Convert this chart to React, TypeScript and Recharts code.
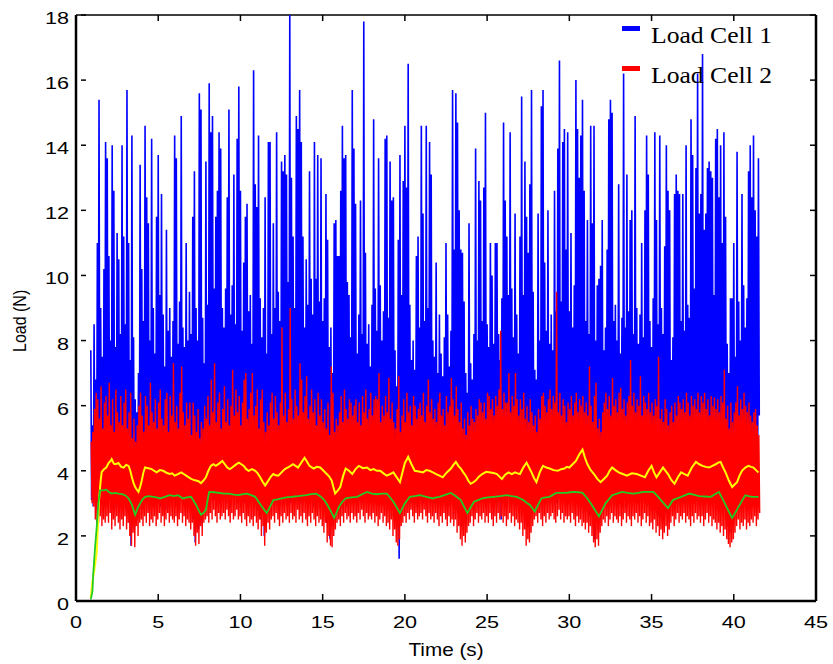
import React from 'react';
import { LineChart, Line, XAxis, YAxis, ReferenceLine, Legend, Label } from 'recharts';

// sampling grid of the two load-cell records (s)
const startTime = 0.9;
const stepTime = 0.1;

// Load Cell 1: local peaks and troughs (N)
const blueHigh = [
  7.7, 5.4, 8.5, 6.8, 11.0, 15.4, 9.0, 7.5, 10.2, 14.1,
  13.6, 10.6, 8.0, 14.0, 12.6, 7.8, 11.3, 10.5, 8.2, 14.0,
  11.2, 8.5, 15.7, 11.0, 7.4, 14.3, 8.1, 6.2, 5.8, 7.0,
  13.4, 10.2, 8.6, 14.6, 12.4, 11.6, 8.0, 14.2, 9.0, 7.6,
  11.8, 13.7, 9.4, 12.5, 8.8, 7.2, 11.4, 8.3, 9.0, 7.5,
  8.6, 14.3, 13.6, 7.9, 9.2, 14.9, 8.4, 7.8, 11.0, 8.0,
  9.5, 8.2, 11.8, 13.2, 9.0, 8.0, 15.6, 15.1, 8.7, 7.3,
  13.5, 9.1, 15.9, 14.4, 14.9, 9.6, 11.8, 12.6, 14.4, 13.9,
  9.0, 8.4, 9.6, 12.4, 15.1, 8.8, 9.7, 13.1, 8.5, 14.2,
  15.8, 12.6, 8.3, 10.4, 11.8, 12.2, 8.9, 9.4, 7.9, 16.3,
  12.8, 12.1, 14.3, 9.3, 8.1, 9.0, 12.4, 7.6, 14.1, 14.1,
  8.2, 11.6, 9.0, 14.4, 9.5, 8.6, 13.5, 13.2, 13.7, 13.1,
  9.8, 18.0, 13.0, 11.2, 9.0, 14.9, 14.5, 15.7, 14.1, 11.2,
  8.4, 10.5, 9.1, 13.2, 9.9, 8.8, 14.1, 9.9, 13.7, 9.2,
  13.6, 8.6, 9.3, 12.5, 11.1, 7.8, 8.4, 7.0, 11.6, 11.7,
  10.6, 10.6, 12.6, 14.6, 13.6, 13.7, 9.8, 9.4, 8.1, 15.7,
  13.9, 12.2, 7.6, 8.8, 12.3, 8.2, 17.8, 10.7, 7.9, 8.5,
  7.2, 9.1, 14.8, 9.6, 8.3, 13.6, 9.7, 8.0, 8.9, 14.2,
  14.3, 8.7, 13.5, 12.3, 12.4, 7.7, 6.6, 11.1, 13.7, 9.4,
  12.9, 14.6, 12.7, 16.5, 9.1, 7.4, 8.0, 7.1, 10.6, 11.2,
  8.4, 14.6, 11.9, 8.6, 14.6, 9.0, 14.1, 13.1, 8.0, 7.5,
  10.4, 7.0, 8.8, 7.6, 6.9, 8.1, 11.0, 8.8, 7.2, 8.3,
  15.7, 10.8, 15.6, 14.7, 12.0, 10.8, 10.7, 9.2, 7.0, 6.4,
  11.6, 7.3, 6.8, 8.2, 13.9, 8.0, 12.9, 12.3, 8.6, 12.7,
  15.0, 8.5, 7.8, 11.0, 10.0, 7.9, 11.0, 11.0, 8.2, 7.4,
  9.3, 14.7, 12.3, 11.2, 9.4, 14.4, 9.6, 8.1, 11.9, 8.8,
  7.6, 11.2, 15.5, 9.4, 13.5, 11.8, 10.7, 12.8, 15.7, 9.5,
  7.1, 6.8, 11.9, 8.0, 15.2, 15.7, 10.4, 8.3, 12.0, 7.9,
  8.8, 7.7, 12.6, 8.9, 13.9, 16.6, 9.2, 14.1, 14.5, 10.8,
  14.4, 8.9, 11.3, 8.4, 9.7, 16.0, 14.5, 13.0, 14.3, 15.4,
  12.6, 8.6, 11.7, 8.2, 14.6, 11.6, 14.6, 8.0, 9.7, 9.9,
  10.3, 11.7, 7.7, 8.4, 10.8, 14.8, 15.4, 15.0, 8.6, 9.1,
  8.0, 12.8, 7.6, 8.7, 16.2, 8.4, 13.1, 8.9, 11.7, 12.0,
  8.2, 14.9, 9.0, 7.9, 8.8, 11.0, 8.1, 12.0, 14.3, 13.1,
  8.6, 7.8, 9.3, 14.4, 11.7, 8.5, 14.3, 9.0, 8.2, 10.9,
  14.0, 12.6, 12.0, 7.4, 8.1, 12.5, 13.1, 12.6, 12.5, 8.6,
  12.5, 8.3, 14.0, 9.1, 8.7, 14.8, 13.7, 9.6, 13.3, 16.2,
  11.9, 12.5, 16.8, 11.4, 11.9, 13.3, 13.5, 13.2, 13.0, 9.4,
  14.2, 14.5, 12.4, 14.0, 11.0, 14.4, 11.8, 7.9, 7.0, 9.3,
  9.3, 11.0, 7.5, 13.8, 9.2, 8.0, 12.5, 9.7, 8.4, 9.3,
  13.2, 14.0, 12.4, 14.3, 12.0, 11.2, 13.6,
];

const blueLow = [
  3.1, 2.9, 3.4, 2.8, 3.6, 3.0, 3.3, 2.7, 3.5, 3.1,
  2.9, 3.4, 3.0, 3.7, 2.8, 3.2, 3.5, 2.9, 3.3, 3.0,
  3.4, 2.8, 3.1, 2.4, 1.7, 2.6, 2.2, 2.9, 2.5, 3.0,
  3.3, 2.9, 3.6, 3.1, 3.4, 2.8, 3.5, 3.0, 3.2, 3.7,
  3.0, 3.4, 2.9, 3.6, 3.2, 2.8, 3.5, 3.1, 3.3, 2.9,
  3.6, 3.0, 3.4, 2.8, 3.2, 3.7, 3.0, 3.3, 2.9, 3.5,
  3.1, 2.8, 2.5, 1.8, 2.6, 2.2, 2.9, 2.4, 3.0, 3.3,
  3.5, 3.0, 3.8, 3.2, 3.6, 3.1, 3.4, 3.7, 3.0, 3.5,
  3.2, 3.6, 3.0, 3.4, 3.8, 3.1, 3.5, 3.3, 3.7, 3.0,
  3.4, 3.1, 3.6, 3.0, 3.5, 3.2, 3.8, 3.1, 3.4, 3.0,
  3.2, 2.8, 3.0, 2.5, 2.7, 2.0, 2.6, 3.0, 2.8, 3.3,
  3.1, 3.5, 3.0, 3.6, 3.2, 3.4, 2.9, 3.7, 3.1, 3.5,
  3.3, 3.0, 3.6, 3.2, 3.8, 3.1, 3.5, 3.0, 3.4, 3.7,
  3.2, 3.5, 3.0, 3.6, 3.3, 2.9, 3.4, 3.1, 3.7, 3.0,
  3.2, 2.8, 3.0, 2.4, 2.6, 1.9, 2.3, 2.7, 2.9, 3.1,
  3.4, 3.0, 3.6, 3.2, 3.5, 2.9, 3.7, 3.1, 3.4, 3.0,
  3.5, 3.1, 3.8, 3.3, 3.6, 3.0, 3.4, 3.2, 3.7, 3.1,
  3.3, 3.6, 3.0, 3.5, 3.2, 3.8, 3.1, 3.4, 2.9, 3.6,
  3.1, 3.4, 2.9, 3.0, 2.6, 2.8, 2.4, 1.3, 2.7, 3.0,
  3.3, 3.6, 3.1, 3.5, 3.0, 3.7, 3.2, 3.4, 2.9, 3.6,
  3.2, 3.5, 3.0, 3.8, 3.3, 3.1, 3.6, 3.0, 3.4, 3.2,
  3.5, 3.0, 3.4, 3.1, 3.7, 2.9, 3.3, 3.6, 3.0, 3.4,
  3.1, 3.4, 2.8, 3.0, 2.6, 2.3, 2.7, 2.5, 2.9, 3.2,
  3.4, 3.0, 3.6, 3.2, 3.5, 2.9, 3.3, 3.7, 3.1, 3.4,
  3.0, 3.5, 3.2, 3.6, 2.9, 3.3, 3.0, 3.4, 3.1, 2.5,
  3.3, 3.6, 3.0, 3.4, 3.2, 3.7, 3.1, 3.5, 2.9, 3.3,
  3.0, 3.2, 2.7, 2.9, 2.4, 2.6, 2.3, 2.8, 3.0, 3.2,
  3.4, 3.1, 3.6, 3.0, 3.5, 3.2, 3.8, 3.1, 3.4, 3.0,
  3.6, 3.2, 3.5, 3.0, 3.7, 3.3, 3.1, 3.6, 3.2, 3.4,
  3.0, 3.5, 3.2, 3.7, 3.1, 3.4, 3.0, 3.6, 3.3, 3.1,
  3.2, 2.9, 3.1, 2.6, 2.8, 2.3, 1.9, 2.5, 2.4, 2.8,
  3.1, 3.4, 3.0, 3.6, 3.2, 3.5, 2.9, 3.7, 3.1, 3.3,
  3.5, 3.0, 3.4, 3.2, 3.6, 2.9, 3.3, 3.7, 3.0, 3.4,
  3.2, 3.6, 3.0, 3.5, 3.1, 3.4, 3.8, 3.0, 3.3, 3.1,
  3.4, 3.0, 3.2, 2.8, 3.0, 2.6, 2.7, 2.4, 2.9, 3.1,
  2.8, 3.0, 3.3, 3.5, 3.0, 3.4, 3.1, 3.6, 3.2, 3.5,
  3.0, 3.4, 3.2, 3.7, 3.1, 3.5, 3.0, 3.3, 3.6, 3.2,
  3.4, 3.0, 3.6, 3.1, 3.5, 3.2, 3.7, 3.0, 3.3, 3.1,
  3.0, 3.3, 2.8, 3.1, 2.7, 2.9, 2.5, 2.3, 2.1, 2.4,
  2.6, 2.9, 3.1, 3.4, 3.0, 3.3, 3.1, 3.5, 3.0, 3.2,
  3.4, 3.1, 3.5, 3.0, 3.3, 3.1, 5.7,
];

// Load Cell 2: local peaks and troughs (N)
const redHigh = [
  4.9, 5.2, 5.9, 6.4, 6.2, 5.6, 6.6, 5.3, 6.1, 6.3,
  5.7, 6.7, 5.4, 6.2, 5.2, 6.5, 5.8, 5.5, 6.3, 5.4,
  6.1, 6.5, 5.3, 5.8, 6.4, 5.0, 5.6, 4.9, 5.4, 6.0,
  6.4, 5.7, 5.2, 6.3, 6.0, 5.4, 6.7, 5.8, 5.5, 6.2,
  5.3, 6.1, 6.5, 5.6, 5.4, 6.2, 6.4, 5.2, 6.3, 5.7,
  7.3, 5.5, 6.0, 5.3, 6.4, 7.2, 5.8, 5.4, 6.1, 5.6,
  6.1, 5.1, 6.1, 5.7, 5.2, 5.9, 5.0, 5.5, 5.3, 6.0,
  5.6, 6.3, 5.4, 6.8, 5.8, 7.3, 5.5, 6.1, 6.4, 5.3,
  5.9, 6.6, 5.5, 6.2, 5.4, 6.0, 7.1, 5.7, 6.5, 5.8,
  6.3, 5.4, 6.1, 6.8, 7.0, 5.6, 5.9, 6.4, 7.0, 5.7,
  6.0, 6.5, 5.3, 6.2, 6.5, 5.5, 5.2, 5.8, 5.4, 6.1,
  6.4, 5.6, 6.3, 5.8, 5.4, 6.1, 8.4, 5.7, 6.4, 5.5,
  5.9, 9.0, 6.2, 5.6, 6.5, 6.0, 5.7, 7.3, 6.8, 5.8,
  6.3, 6.9, 5.6, 6.0, 6.5, 5.8, 6.2, 5.4, 6.4, 5.7,
  6.2, 5.5, 5.9, 5.3, 6.1, 5.1, 7.2, 6.4, 5.2, 5.6,
  5.4, 5.8, 6.3, 5.5, 6.5, 5.9, 5.6, 6.2, 6.1, 5.7,
  6.0, 6.2, 5.5, 6.1, 5.4, 6.3, 5.8, 6.5, 5.6, 5.9,
  6.4, 5.7, 6.2, 6.3, 6.2, 7.0, 5.5, 6.0, 5.7, 6.3,
  5.8, 6.85, 5.6, 6.1, 5.5, 5.3, 5.9, 6.9, 5.2, 5.7,
  6.2, 5.5, 6.4, 5.8, 6.0, 5.4, 6.3, 6.0, 5.6, 5.9,
  6.1, 5.7, 6.4, 5.5, 6.0, 6.8, 5.8, 6.2, 5.6, 5.9,
  5.5, 6.1, 6.4, 5.7, 5.9, 5.4, 6.3, 5.8, 6.0, 6.85,
  6.2, 5.7, 6.6, 5.9, 5.5, 6.1, 5.3, 5.6, 5.1, 5.8,
  5.4, 6.0, 5.6, 5.5, 5.9, 5.7, 6.2, 6.1, 5.8, 6.1,
  5.6, 6.4, 6.3, 5.9, 6.2, 5.7, 6.3, 6.0, 6.5, 8.3,
  5.9, 6.4, 6.1, 6.1, 7.0, 5.8, 6.3, 6.0, 7.0, 6.2,
  5.7, 6.2, 5.9, 6.4, 5.6, 6.0, 5.5, 6.2, 5.8, 5.4,
  5.7, 5.2, 5.9, 5.6, 6.3, 6.4, 6.0, 5.8, 6.2, 6.5,
  5.9, 6.3, 6.1, 9.5, 5.8, 6.4, 5.7, 6.2, 6.0, 5.5,
  6.1, 5.9, 6.3, 5.7, 6.1, 6.4, 5.8, 6.2, 6.0, 6.3,
  5.8, 6.1, 5.7, 7.2, 6.0, 5.5, 6.3, 6.7, 5.3, 5.6,
  5.2, 5.8, 6.1, 6.4, 5.9, 6.3, 5.7, 6.85, 6.0, 6.2,
  5.8, 6.4, 6.55, 5.9, 6.2, 5.7, 6.1, 6.3, 7.4, 6.0,
  6.4, 5.8, 6.2, 6.0, 6.9, 5.7, 6.3, 6.1, 5.9, 6.4,
  5.8, 6.1, 5.7, 6.2, 6.0, 7.5, 5.6, 5.9, 5.5, 6.2,
  5.9, 5.4, 5.8, 6.0, 5.5, 6.1, 5.7, 6.3, 6.1, 5.9,
  6.2, 5.8, 6.4, 6.1, 5.7, 6.3, 6.0, 6.2, 5.9, 6.4,
  5.8, 6.3, 6.1, 6.4, 5.9, 6.2, 5.7, 6.3, 6.0, 6.25,
  5.9, 6.2, 5.8, 6.3, 6.1, 7.1, 5.6, 6.0, 5.3, 6.1,
  5.5, 5.8, 6.1, 6.6, 5.7, 6.2, 5.9, 6.4, 6.0, 5.8,
  6.1, 5.7, 5.5, 5.8, 5.9, 5.4, 5.1,
];

const redLow = [
  3.0, 2.9, 2.5, 2.3, 2.4, 2.6, 2.3, 2.5, 2.4, 2.6,
  2.4, 2.7, 2.2, 2.5, 2.3, 2.6, 2.4, 2.2, 2.5, 2.3,
  2.6, 2.2, 2.4, 2.0, 1.7, 2.1, 1.65, 2.3, 2.0, 2.4,
  2.5, 2.3, 2.6, 2.4, 2.7, 2.3, 2.5, 2.4, 2.6, 2.3,
  2.5, 2.7, 2.4, 2.6, 2.3, 2.5, 2.7, 2.4, 2.6, 2.5,
  2.4, 2.6, 2.3, 2.5, 2.7, 2.4, 2.6, 2.3, 2.5, 2.4,
  2.2, 2.4, 2.0, 1.7, 2.1, 1.75, 2.3, 2.0, 2.4, 2.5,
  2.6, 2.4, 2.7, 2.5, 2.8, 2.6, 2.4, 2.7, 2.5, 2.6,
  2.7, 2.5, 2.8, 2.6, 2.4, 2.7, 2.5, 2.6, 2.8, 2.5,
  2.6, 2.4, 2.7, 2.5, 2.3, 2.6, 2.4, 2.5, 2.3, 2.6,
  2.4, 2.2, 2.5, 2.0, 2.3, 1.7, 2.1, 2.4, 2.2, 2.5,
  2.6, 2.4, 2.7, 2.5, 2.3, 2.6, 2.4, 2.7, 2.5, 2.6,
  2.4, 2.7, 2.5, 2.6, 2.4, 2.8, 2.5, 2.6, 2.4, 2.7,
  2.5, 2.3, 2.6, 2.4, 2.7, 2.5, 2.3, 2.6, 2.4, 2.5,
  2.3, 2.1, 2.4, 1.8, 2.0, 1.7, 1.65, 2.0, 2.2, 2.4,
  2.5, 2.3, 2.6, 2.4, 2.7, 2.5, 2.6, 2.4, 2.7, 2.5,
  2.6, 2.4, 2.7, 2.5, 2.8, 2.6, 2.4, 2.7, 2.5, 2.6,
  2.5, 2.7, 2.4, 2.6, 2.3, 2.5, 2.7, 2.4, 2.6, 2.3,
  2.4, 2.2, 2.5, 2.0, 2.2, 1.8, 1.7, 1.9, 2.3, 2.4,
  2.6, 2.4, 2.7, 2.5, 2.8, 2.6, 2.4, 2.7, 2.5, 2.6,
  2.7, 2.5, 2.8, 2.6, 2.4, 2.7, 2.5, 2.6, 2.4, 2.7,
  2.5, 2.3, 2.6, 2.4, 2.7, 2.5, 2.3, 2.6, 2.4, 2.5,
  2.3, 2.5, 2.1, 2.3, 1.9, 1.7, 2.0, 1.8, 2.1, 2.3,
  2.4, 2.6, 2.3, 2.5, 2.7, 2.4, 2.6, 2.5, 2.7, 2.4,
  2.6, 2.4, 2.7, 2.5, 2.3, 2.6, 2.4, 2.7, 2.5, 2.6,
  2.4, 2.6, 2.3, 2.5, 2.7, 2.4, 2.6, 2.3, 2.5, 2.4,
  2.2, 2.4, 2.0, 2.2, 1.7, 1.9, 1.8, 2.1, 2.3, 2.5,
  2.6, 2.4, 2.7, 2.5, 2.3, 2.6, 2.4, 2.7, 2.5, 2.6,
  2.7, 2.5, 2.4, 2.6, 2.8, 2.5, 2.7, 2.4, 2.6, 2.5,
  2.6, 2.4, 2.7, 2.5, 2.3, 2.6, 2.4, 2.5, 2.3, 2.4,
  2.2, 2.4, 2.1, 2.3, 2.0, 1.8, 1.65, 1.9, 1.7, 2.1,
  2.3, 2.5, 2.4, 2.6, 2.3, 2.5, 2.7, 2.4, 2.6, 2.5,
  2.4, 2.6, 2.3, 2.5, 2.7, 2.4, 2.6, 2.5, 2.3, 2.6,
  2.5, 2.7, 2.4, 2.6, 2.3, 2.5, 2.7, 2.4, 2.6, 2.3,
  2.4, 2.2, 2.5, 2.1, 2.3, 2.0, 2.2, 1.9, 2.1, 2.3,
  2.0, 2.2, 2.4, 2.6, 2.3, 2.5, 2.7, 2.4, 2.6, 2.5,
  2.7, 2.4, 2.6, 2.5, 2.3, 2.6, 2.4, 2.7, 2.5, 2.6,
  2.4, 2.6, 2.3, 2.5, 2.7, 2.4, 2.6, 2.3, 2.5, 2.4,
  2.2, 2.4, 2.1, 2.3, 2.0, 2.2, 1.9, 1.75, 1.65, 1.8,
  1.9, 2.1, 2.3, 2.5, 2.2, 2.4, 2.3, 2.5, 2.2, 2.4,
  2.3, 2.5, 2.4, 2.6, 2.3, 2.5, 2.7,
];

// smoothed Load Cell 1 trace (yellow): [time s, load N]
const yellowPoints = [
  [0.9, 0.1], [1.0, 0.6], [1.1, 0.9], [1.26, 1.5], [1.33, 2.3], [1.4, 3.1], [1.5, 3.7], [1.56, 3.96],
  [1.7, 4.05], [1.84, 4.1], [2.0, 4.25], [2.1, 4.3], [2.17, 4.36], [2.3, 4.22], [2.4, 4.2], [2.58, 4.24],
  [2.75, 4.12], [2.9, 4.1], [3.05, 4.18], [3.2, 4.15], [3.3, 4.0], [3.4, 3.8], [3.5, 3.62], [3.6, 3.5],
  [3.7, 3.42], [3.8, 3.35], [3.9, 3.5], [4.0, 3.7], [4.1, 3.95], [4.2, 4.1], [4.4, 4.08], [4.6, 4.05],
  [4.75, 4.0], [4.9, 3.95], [5.1, 4.02], [5.3, 4.0], [5.5, 3.94], [5.7, 3.9], [5.85, 3.92], [6.0, 3.85],
  [6.2, 3.9], [6.4, 3.95], [6.55, 3.9], [6.7, 3.85], [6.85, 3.8], [7.0, 3.75], [7.15, 3.72], [7.3, 3.7],
  [7.45, 3.68], [7.6, 3.62], [7.75, 3.7], [7.9, 3.8], [8.05, 4.0], [8.2, 4.15], [8.35, 4.2], [8.5, 4.15],
  [8.7, 4.22], [8.9, 4.3], [9.05, 4.2], [9.2, 4.1], [9.35, 4.05], [9.5, 4.1], [9.7, 4.18], [9.9, 4.25],
  [10.05, 4.2], [10.2, 4.15], [10.35, 4.05], [10.5, 4.0], [10.7, 4.05], [10.9, 4.0], [11.05, 3.92], [11.2, 3.8],
  [11.35, 3.66], [11.5, 3.55], [11.6, 3.62], [11.7, 3.7], [11.85, 3.82], [12.0, 3.9], [12.15, 3.86], [12.3, 3.85],
  [12.5, 3.95], [12.7, 4.05], [12.95, 4.12], [13.2, 4.2], [13.35, 4.15], [13.5, 4.1], [13.7, 4.25], [13.9, 4.4],
  [14.05, 4.28], [14.2, 4.15], [14.45, 4.07], [14.65, 4.12], [14.85, 4.1], [15.05, 4.0], [15.25, 3.9], [15.4, 3.82],
  [15.55, 3.7], [15.65, 3.5], [15.76, 3.3], [15.9, 3.38], [16.07, 3.5], [16.25, 3.85], [16.4, 4.07], [16.6, 4.0],
  [16.8, 3.9], [17.0, 4.05], [17.2, 4.15], [17.45, 4.08], [17.7, 4.1], [17.9, 4.02], [18.1, 4.05], [18.3, 4.0],
  [18.5, 4.0], [18.7, 3.92], [18.9, 3.85], [19.1, 3.9], [19.3, 3.95], [19.5, 3.8], [19.7, 3.65], [19.85, 3.95],
  [20.0, 4.24], [20.2, 4.43], [20.4, 4.2], [20.6, 4.0], [20.85, 3.98], [21.1, 3.95], [21.3, 4.02], [21.5, 4.0],
  [21.7, 3.95], [21.9, 3.9], [22.1, 3.85], [22.3, 3.8], [22.55, 3.95], [22.8, 4.07], [22.95, 4.18], [23.1, 4.27],
  [23.25, 4.15], [23.4, 4.07], [23.55, 3.95], [23.7, 3.85], [23.85, 3.7], [24.0, 3.6], [24.15, 3.64], [24.3, 3.7],
  [24.5, 3.82], [24.7, 3.9], [24.95, 3.97], [25.2, 3.95], [25.4, 3.93], [25.6, 3.9], [25.75, 3.82], [25.9, 3.75],
  [26.1, 3.88], [26.3, 3.95], [26.5, 3.9], [26.7, 3.95], [26.85, 3.92], [27.0, 3.9], [27.2, 4.1], [27.4, 4.25],
  [27.55, 4.1], [27.7, 3.95], [27.85, 3.78], [28.0, 3.65], [28.2, 3.95], [28.4, 4.15], [28.6, 4.1], [28.8, 4.07],
  [29.05, 4.02], [29.3, 4.0], [29.5, 4.05], [29.7, 4.07], [29.85, 4.12], [30.0, 4.1], [30.2, 4.2], [30.4, 4.3],
  [30.6, 4.5], [30.8, 4.65], [30.95, 4.4], [31.1, 4.2], [31.3, 4.02], [31.5, 3.9], [31.7, 3.75], [31.9, 3.65],
  [32.1, 3.75], [32.3, 3.85], [32.45, 4.0], [32.6, 4.1], [32.8, 4.02], [33.0, 3.95], [33.25, 3.9], [33.5, 3.85],
  [33.8, 3.92], [34.1, 3.9], [34.35, 3.85], [34.6, 3.8], [34.8, 4.0], [35.0, 4.15], [35.15, 3.95], [35.3, 3.8],
  [35.5, 3.95], [35.7, 4.1], [35.85, 4.0], [36.0, 3.9], [36.2, 3.72], [36.4, 3.6], [36.6, 3.8], [36.8, 3.95],
  [37.0, 3.9], [37.2, 3.85], [37.45, 4.1], [37.7, 4.27], [37.9, 4.2], [38.1, 4.15], [38.3, 4.12], [38.5, 4.1],
  [38.7, 4.15], [38.9, 4.2], [39.05, 4.25], [39.2, 4.27], [39.35, 4.1], [39.5, 3.95], [39.7, 3.7], [39.9, 3.5],
  [40.05, 3.58], [40.2, 3.65], [40.35, 3.85], [40.5, 4.0], [40.7, 4.1], [40.9, 4.15], [41.05, 4.12], [41.2, 4.1],
  [41.35, 4.02], [41.5, 3.95],
];

// smoothed Load Cell 2 trace (green): [time s, load N]
const greenPoints = [
  [0.9, 0.05], [1.0, 0.3], [1.05, 0.85], [1.16, 1.65], [1.26, 2.27], [1.36, 3.0], [1.46, 3.4], [1.65, 3.4],
  [1.84, 3.42], [2.0, 3.35], [2.17, 3.3], [2.4, 3.32], [2.58, 3.3], [2.8, 3.28], [2.98, 3.25], [3.2, 3.15],
  [3.3, 3.05], [3.4, 2.95], [3.5, 2.8], [3.6, 2.65], [3.75, 2.85], [3.9, 3.0], [4.05, 3.12], [4.2, 3.2],
  [4.45, 3.22], [4.7, 3.2], [4.9, 3.18], [5.1, 3.15], [5.4, 3.2], [5.7, 3.25], [5.95, 3.22], [6.2, 3.25],
  [6.35, 3.2], [6.5, 3.15], [6.75, 3.18], [7.0, 3.2], [7.15, 3.08], [7.3, 2.95], [7.45, 2.8], [7.6, 2.65],
  [7.75, 2.7], [7.9, 2.8], [8.0, 3.1], [8.1, 3.35], [8.4, 3.34], [8.7, 3.32], [9.0, 3.3], [9.3, 3.3],
  [9.6, 3.27], [9.9, 3.25], [10.15, 3.28], [10.4, 3.3], [10.65, 3.25], [10.9, 3.2], [11.1, 3.05], [11.3, 2.9],
  [11.45, 2.8], [11.6, 2.7], [11.8, 2.9], [12.0, 3.1], [12.25, 3.12], [12.5, 3.15], [12.8, 3.18], [13.1, 3.2],
  [13.3, 3.21], [13.5, 3.22], [13.75, 3.24], [14.0, 3.25], [14.3, 3.28], [14.6, 3.3], [14.85, 3.22], [15.1, 3.1],
  [15.25, 2.98], [15.4, 2.85], [15.55, 2.7], [15.7, 2.55], [15.85, 2.72], [16.0, 2.9], [16.2, 3.05], [16.4, 3.15],
  [16.75, 3.18], [17.1, 3.2], [17.4, 3.28], [17.7, 3.35], [18.0, 3.3], [18.3, 3.28], [18.6, 3.3], [18.9, 3.3],
  [19.1, 3.18], [19.3, 3.05], [19.5, 2.88], [19.7, 2.7], [19.85, 2.85], [20.0, 3.0], [20.15, 3.1], [20.3, 3.2],
  [20.6, 3.22], [20.9, 3.25], [21.3, 3.2], [21.7, 3.15], [21.9, 3.18], [22.1, 3.2], [22.45, 3.26], [22.8, 3.32],
  [23.1, 3.22], [23.4, 3.1], [23.6, 2.9], [23.8, 2.7], [24.0, 2.88], [24.2, 3.05], [24.45, 3.1], [24.7, 3.15],
  [25.05, 3.18], [25.4, 3.2], [25.8, 3.22], [26.2, 3.25], [26.5, 3.22], [26.8, 3.2], [27.0, 3.15], [27.2, 3.1],
  [27.4, 3.02], [27.6, 2.95], [27.75, 2.85], [27.9, 2.75], [28.1, 2.95], [28.3, 3.15], [28.55, 3.18], [28.8, 3.2],
  [29.0, 3.26], [29.2, 3.32], [29.5, 3.32], [29.8, 3.32], [30.05, 3.34], [30.3, 3.35], [30.55, 3.34], [30.8, 3.32],
  [31.05, 3.18], [31.3, 3.0], [31.55, 2.8], [31.8, 2.6], [32.0, 2.8], [32.2, 3.0], [32.4, 3.12], [32.6, 3.25],
  [32.9, 3.3], [33.2, 3.35], [33.55, 3.32], [33.9, 3.3], [34.2, 3.32], [34.5, 3.35], [34.8, 3.35], [35.1, 3.35],
  [35.25, 3.28], [35.4, 3.2], [35.7, 3.02], [36.0, 2.85], [36.15, 2.98], [36.3, 3.1], [36.55, 3.15], [36.8, 3.2],
  [37.05, 3.25], [37.3, 3.3], [37.6, 3.26], [37.9, 3.22], [38.25, 3.21], [38.6, 3.2], [38.85, 3.28], [39.1, 3.35],
  [39.3, 3.15], [39.5, 2.95], [39.7, 2.75], [39.9, 2.55], [40.1, 2.72], [40.3, 2.9], [40.5, 3.08], [40.7, 3.25],
  [40.9, 3.22], [41.1, 3.2], [41.3, 3.2], [41.5, 3.2],
];

const xTicks = [0, 5, 10, 15, 20, 25, 30, 35, 40, 45];
const yTicks = [0, 2, 4, 6, 8, 10, 12, 14, 16, 18];
const legendLabels = ['Load Cell 1', 'Load Cell 2'];
const legendColors = ['#0000ff', '#ff0000'];

type Pt = { t: number; v: number };

function peakTroughSeries(high: number[], low: number[], shift: number): Pt[] {
  const out: Pt[] = [];
  for (let i = 0; i < high.length; i++) {
    const t = startTime + i * stepTime + shift;
    out.push({ t: Math.round(t * 1000) / 1000, v: high[i] });
    out.push({ t: Math.round((t + stepTime / 2) * 1000) / 1000, v: low[i] });
  }
  return out;
}

function pairSeries(points: number[][]): Pt[] {
  return points.map(([t, v]) => ({ t, v }));
}

const blueData = peakTroughSeries(blueHigh, blueLow, 0);
const redData = peakTroughSeries(redHigh, redLow, 0.025);
const yellowData = pairSeries(yellowPoints);
const greenData = pairSeries(greenPoints);

const W = 833;
const H = 664;
const PLOT_TOP = 15;
const PLOT_LEFT = 76;
const PLOT_RIGHT = 816;
const SANS = "'Liberation Sans', Arial, Helvetica, sans-serif";
const SERIF = "'Liberation Serif', 'Times New Roman', serif";

function XTick(props: any) {
  const { x, y, payload } = props;
  return (
    <g>
      <text
        transform={`translate(${x},${y + 27}) scale(1.35,1)`}
        textAnchor="middle"
        fontFamily={SANS}
        fontSize={16}
        fill="#000"
      >
        {payload.value}
      </text>
      <line x1={x} y1={y} x2={x} y2={y - 7} stroke="#000" strokeWidth={1.5} />
      <line x1={x} y1={PLOT_TOP} x2={x} y2={PLOT_TOP + 6} stroke="#000" strokeWidth={1.5} />
    </g>
  );
}

function YTick(props: any) {
  const { x, y, payload } = props;
  return (
    <g>
      <text
        transform={`translate(${x - 7},${y + 9}) scale(1.35,1)`}
        textAnchor="end"
        fontFamily={SANS}
        fontSize={16}
        fill="#000"
      >
        {payload.value}
      </text>
      <line x1={x + 5} y1={y} x2={x + 10} y2={y} stroke="#000" strokeWidth={1.5} />
      <line x1={PLOT_RIGHT - 6} y1={y} x2={PLOT_RIGHT} y2={y} stroke="#000" strokeWidth={1.5} />
    </g>
  );
}

function LegendBox() {
  return (
    <svg width={210} height={90}>
      {legendLabels.map((name, i) => (
        <g key={name}>
          <rect x={7} y={16 + i * 40} width={18} height={5} fill={legendColors[i]} />
          <text
            transform={`translate(36,${33 + i * 40}) scale(1.14,1)`}
            fontFamily={SERIF}
            fontSize={22.5}
            fill="#000"
          >
            {name}
          </text>
        </g>
      ))}
    </svg>
  );
}

export default function App() {
  return (
    <div style={{ position: 'absolute', left: 0, top: 0, width: W, height: H, background: '#fff' }}>
      <LineChart
        width={W}
        height={H}
        margin={{ top: PLOT_TOP, right: W - PLOT_RIGHT, bottom: 23, left: 16 }}
      >
        <XAxis
          dataKey="t"
          type="number"
          domain={[0, 45]}
          ticks={xTicks}
          height={40}
          tickSize={0}
          tickMargin={0}
          tickLine={false}
          tick={<XTick />}
          axisLine={{ stroke: '#000', strokeWidth: 2.5 }}
          allowDataOverflow
        >
          <Label
            content={() => (
              <text
                transform="translate(446,656) scale(1.15,1)"
                textAnchor="middle"
                fontFamily={SANS}
                fontSize={18}
                fill="#000"
              >
                Time (s)
              </text>
            )}
          />
        </XAxis>
        <YAxis
          type="number"
          domain={[0, 18]}
          ticks={yTicks}
          width={60}
          tickSize={0}
          tickMargin={0}
          tickLine={false}
          tick={<YTick />}
          axisLine={{ stroke: '#000', strokeWidth: 2.5 }}
          allowDataOverflow
        >
          <Label
            content={() => (
              <text
                transform="translate(26,352) scale(1.15,1) rotate(-90)"
                textAnchor="start"
                fontFamily={SANS}
                fontSize={16}
                fill="#000"
              >
                Load (N)
              </text>
            )}
          />
        </YAxis>
        <ReferenceLine y={18} stroke="#000" strokeWidth={1.5} />
        <ReferenceLine x={45} stroke="#000" strokeWidth={2.5} />
        <Line data={blueData} dataKey="v" stroke="#0000ff" strokeWidth={1.6} strokeLinejoin="miter" dot={false} isAnimationActive={false} legendType="none" />
        <Line data={redData} dataKey="v" stroke="#ff0000" strokeWidth={1.4} strokeLinejoin="miter" dot={false} isAnimationActive={false} legendType="none" />
        <Line data={yellowData} dataKey="v" stroke="#ffff00" strokeWidth={2} dot={false} isAnimationActive={false} legendType="none" />
        <Line data={greenData} dataKey="v" stroke="#22cc22" strokeWidth={1.8} dot={false} isAnimationActive={false} legendType="none" />
        <Legend
          layout="horizontal"
          verticalAlign="middle"
          align="center"
          content={() => <LegendBox />}
          wrapperStyle={{ left: PLOT_LEFT + 539, top: 10, width: 210, height: 90 }}
        />
      </LineChart>
    </div>
  );
}
